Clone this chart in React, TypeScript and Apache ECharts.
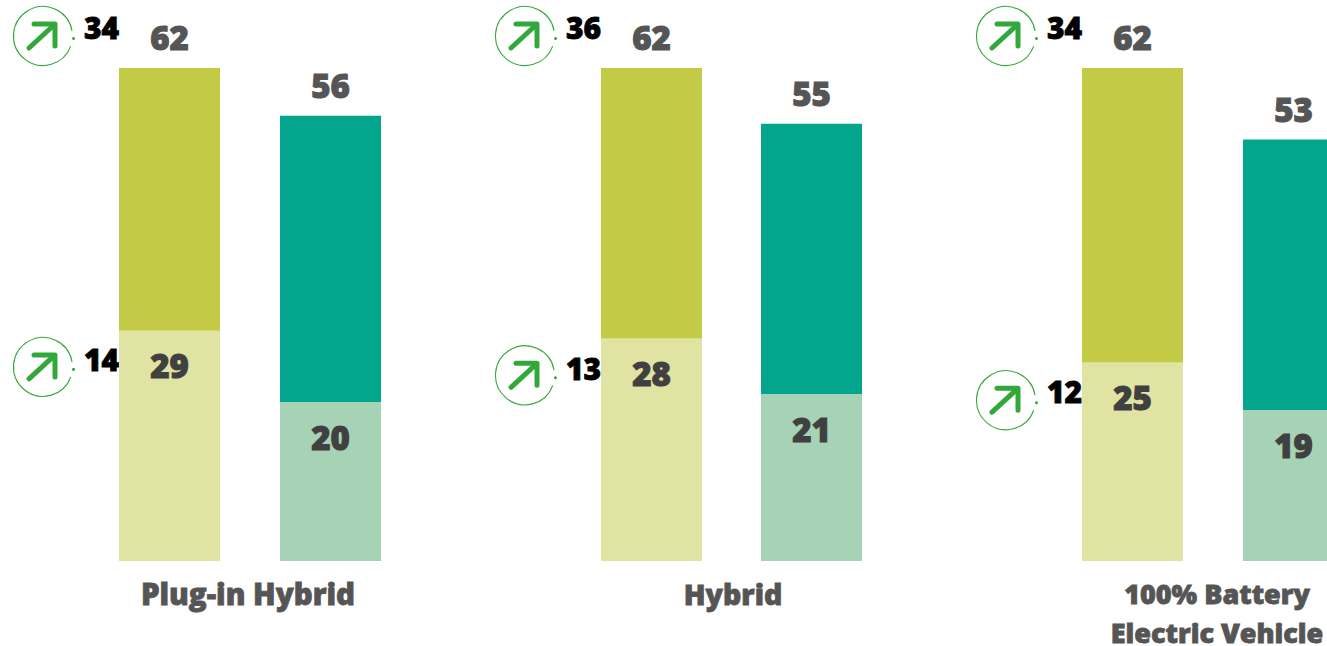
import React, { useEffect, useRef } from "react";
import * as echarts from "echarts";

const panelNames = ["Plug-in Hybrid", "Hybrid", "100% Battery\nElectric Vehicle"];
const barCategories = ["A", "B"];
const oliveTotals = [62, 62, 62];
const olivePart = [29, 28, 25];
const tealTotals = [56, 55, 53];
const tealPart = [20, 21, 19];
const topDeltas = [34, 36, 34];
const lowDeltas = [14, 13, 12];

const FONT = "'Open Sans', Lato, sans-serif";
const GREEN = "#33A83A";
const panelLeft = [89, 571.5, 1052];
const panelWidth = [322, 320, 322];
const lowIconDy = [36.5, 37, 38];
const lowTextDy = [-7, -7, -8.5];
const nameX = [248, 733, 1217];
const nameSize = [29.5, 28.5, 27];

function icon(api: any, dy: number, textDy: number, delta: number) {
  const base = api.coord([0, api.value(0)]);
  const cx = base[0] - 126.5;
  const cy = base[1] + dy;
  const line = { stroke: GREEN, lineWidth: 5, lineCap: "round", lineJoin: "round", fill: "none" };
  return {
    type: "group",
    children: [
      {
        type: "arc",
        shape: { cx, cy, r: 29.5, startAngle: (20 * Math.PI) / 180, endAngle: (350 * Math.PI) / 180, clockwise: true },
        style: { stroke: GREEN, lineWidth: 1.1, fill: "none" },
      },
      { type: "circle", shape: { cx: cx + 30.5, cy: cy + 2.5, r: 1.5 }, style: { fill: GREEN } },
      { type: "line", shape: { x1: cx - 14, y1: cy + 12, x2: cx + 11, y2: cy - 11 }, style: line },
      {
        type: "polyline",
        shape: { points: [[cx - 9, cy - 12], [cx + 12, cy - 12], [cx + 12, cy + 10]] },
        style: line,
      },
      {
        type: "text",
        style: {
          x: cx + 58.5,
          y: cy + textDy,
          text: String(delta),
          fill: "#000",
          stroke: "#000",
          lineWidth: 0.8,
          font: `800 30px ${FONT}`,
          align: "center",
          verticalAlign: "middle",
        },
      },
    ],
  };
}

function buildOption() {
  const grid: any[] = [];
  const xAxis: any[] = [];
  const yAxis: any[] = [];
  const series: any[] = [];
  panelNames.forEach((name, i) => {
    const ax = i;
    grid.push({ left: panelLeft[i], width: panelWidth[i], top: 68, height: 493, outerBoundsMode: "none" });
    xAxis.push({
      gridIndex: i,
      type: "category",
      data: barCategories,
      axisLine: { show: false },
      axisTick: { show: false },
      axisLabel: { show: false },
    });
    yAxis.push({ gridIndex: i, type: "value", min: 0, max: 62, show: false, splitLine: { show: false } });
    const common = {
      type: "bar",
      xAxisIndex: ax,
      yAxisIndex: ax,
      barWidth: 101,
      barGap: "-100%",
    };
    series.push({
      ...common,
      data: [
        { value: oliveTotals[i], itemStyle: { color: "#C3CA45" } },
        { value: tealTotals[i], itemStyle: { color: "#03A58C" } },
      ],
      label: {
        show: true,
        position: "top",
        distance: 14,
        color: "#555555",
        textBorderColor: "#555555",
        textBorderWidth: 1,
        fontFamily: FONT,
        fontWeight: 800,
        fontSize: 33,
      },
    });
    series.push({
      ...common,
      data: [
        { value: olivePart[i], itemStyle: { color: "#E0E3A2" } },
        { value: tealPart[i], itemStyle: { color: "#A6D2B5" } },
      ],
      label: {
        show: true,
        position: "insideTop",
        distance: 19,
        color: "#404040",
        textBorderColor: "#404040",
        textBorderWidth: 1,
        fontFamily: FONT,
        fontWeight: 800,
        fontSize: 33,
      },
    });
    series.push({
      type: "custom",
      xAxisIndex: ax,
      yAxisIndex: ax,
      clip: false,
      data: [[oliveTotals[i], topDeltas[i]]],
      encode: { y: 0 },
      renderItem: (_: any, api: any) => icon(api, -32, -9, api.value(1)),
    });
    series.push({
      type: "custom",
      xAxisIndex: ax,
      yAxisIndex: ax,
      clip: false,
      data: [[olivePart[i], lowDeltas[i]]],
      encode: { y: 0 },
      renderItem: (_: any, api: any) => icon(api, lowIconDy[i], lowTextDy[i], api.value(1)),
    });
  });
  const graphic = panelNames.map((name, i) => ({
    type: "text",
    x: nameX[i],
    y: 574,
    style: {
      text: name,
      fill: "#555555",
      stroke: "#555555",
      lineWidth: 0.8,
      font: `800 ${nameSize[i]}px ${FONT}`,
      align: "center",
      verticalAlign: "top",
      lineHeight: 39,
    },
  }));
  return { animation: false, grid, xAxis, yAxis, series, graphic };
}

export default function App() {
  const ref = useRef<HTMLDivElement>(null);
  useEffect(() => {
    document.body.style.margin = "0";
    const chart = echarts.init(ref.current!, undefined, { renderer: "svg" });
    chart.setOption(buildOption());
    return () => chart.dispose();
  }, []);
  return <div ref={ref} style={{ width: 1327, height: 646, background: "#fff" }} />;
}
